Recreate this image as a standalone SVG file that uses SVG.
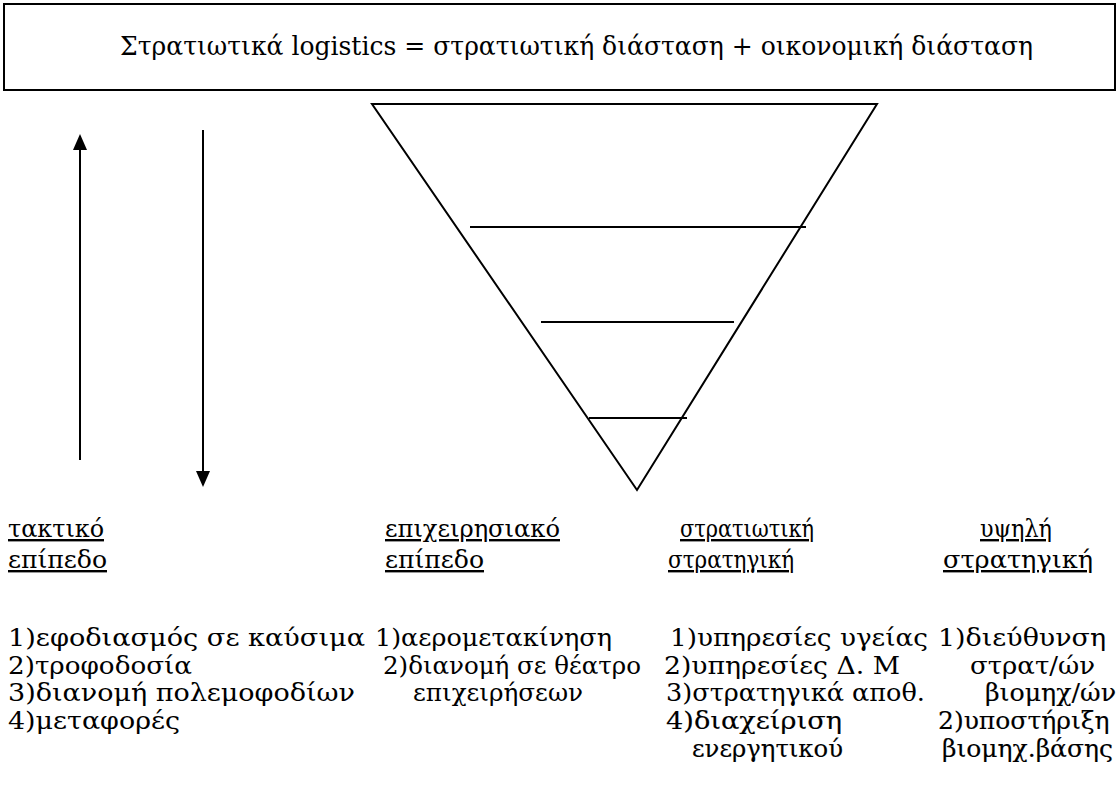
<svg xmlns="http://www.w3.org/2000/svg" width="1118" height="803" viewBox="0 0 1118 803">
<style>
.t{font-size:25.5px;}
.h{font-size:24px;text-decoration:underline;}
.l{font-size:25px;}
.k{stroke:#000;stroke-width:0.15;}
.ln{stroke:#000;stroke-width:2;fill:none;}
</style>
<defs>
<marker id="ah" markerWidth="8" markerHeight="7" refX="7" refY="3.5" orient="auto" markerUnits="strokeWidth">
<path d="M0,0 L8,3.5 L0,7 Z" fill="#000"/>
</marker>
</defs>
<rect width="1118" height="803" fill="#fff"/>
<g font-family="DejaVu Serif, serif" fill="#000">
<g id="title">
<rect x="4" y="4" width="1111" height="86" class="ln"/>
<text class="t" x="120" y="55" textLength="913" lengthAdjust="spacingAndGlyphs">Στρατιωτικά logistics = στρατιωτική διάσταση + οικονομική διάσταση</text>
</g>
<g id="pyramid">
<polygon points="372,104 877,104 637,490" class="ln"/>
<line x1="470" y1="227" x2="806" y2="227" class="ln"/>
<line x1="541" y1="322" x2="734" y2="322" class="ln"/>
<line x1="589" y1="418" x2="687" y2="418" class="ln"/>
</g>
<g id="connectors">
<line x1="80" y1="460" x2="80" y2="136" class="ln" marker-end="url(#ah)"/>
<line x1="203" y1="130" x2="203" y2="485" class="ln" marker-end="url(#ah)"/>
</g>
<g id="col1">
<text class="h" x="8" y="537" textLength="96" lengthAdjust="spacingAndGlyphs">τακτικό</text>
<text class="h" x="8" y="568" textLength="99" lengthAdjust="spacingAndGlyphs">επίπεδο</text>
<text class="l" x="8" y="646" textLength="357" lengthAdjust="spacingAndGlyphs">1)εφοδιασμός σε καύσιμα</text>
<text class="l" x="8" y="674" textLength="184" lengthAdjust="spacingAndGlyphs">2)τροφοδοσία</text>
<text class="l" x="8" y="701" textLength="347" lengthAdjust="spacingAndGlyphs">3)διανομή πολεμοφοδίων</text>
<text class="l" x="8" y="729" textLength="172" lengthAdjust="spacingAndGlyphs">4)μεταφορές</text>
</g>
<g id="col2">
<text class="h" x="385" y="537" textLength="175" lengthAdjust="spacingAndGlyphs">επιχειρησιακό</text>
<text class="h" x="385" y="568" textLength="99" lengthAdjust="spacingAndGlyphs">επίπεδο</text>
<text class="l" x="375" y="646" textLength="237" lengthAdjust="spacingAndGlyphs">1)αερομετακίνηση</text>
<text class="l" x="383" y="674" textLength="258" lengthAdjust="spacingAndGlyphs">2)διανομή σε θέατρο</text>
<text class="l" x="413" y="701" textLength="170" lengthAdjust="spacingAndGlyphs">επιχειρήσεων</text>
</g>
<g id="col3">
<text class="h" x="680" y="537" textLength="134" lengthAdjust="spacingAndGlyphs">στρατιωτική</text>
<text class="h" x="668" y="568" textLength="126" lengthAdjust="spacingAndGlyphs">στρατηγική</text>
<text class="l" x="670" y="646" textLength="258" lengthAdjust="spacingAndGlyphs">1)υπηρεσίες υγείας</text>
<text class="l" x="664" y="674" textLength="236" lengthAdjust="spacingAndGlyphs">2)υπηρεσίες Δ. Μ</text>
<text class="l" x="666" y="701" textLength="259" lengthAdjust="spacingAndGlyphs">3)στρατηγικά αποθ.</text>
<text class="l k" x="666" y="729" textLength="176" lengthAdjust="spacingAndGlyphs">4)διαχείριση</text>
<text class="l k" x="692" y="757" textLength="151" lengthAdjust="spacingAndGlyphs">ενεργητικού</text>
</g>
<g id="col4">
<text class="h" x="980" y="537" textLength="72" lengthAdjust="spacingAndGlyphs">υψηλή</text>
<text class="h" x="943" y="568" textLength="150" lengthAdjust="spacingAndGlyphs">στρατηγική</text>
<text class="l" x="938" y="646" textLength="168" lengthAdjust="spacingAndGlyphs">1)διεύθυνση</text>
<text class="l" x="970" y="674" textLength="125" lengthAdjust="spacingAndGlyphs">στρατ/ών</text>
<text class="l k" x="985" y="701" textLength="131" lengthAdjust="spacingAndGlyphs">βιομηχ/ών</text>
<text class="l k" x="938" y="729">2)υποστήριξη</text>
<text class="l k" x="942" y="757">βιομηχ.βάσης</text>
</g>
</g>
</svg>
